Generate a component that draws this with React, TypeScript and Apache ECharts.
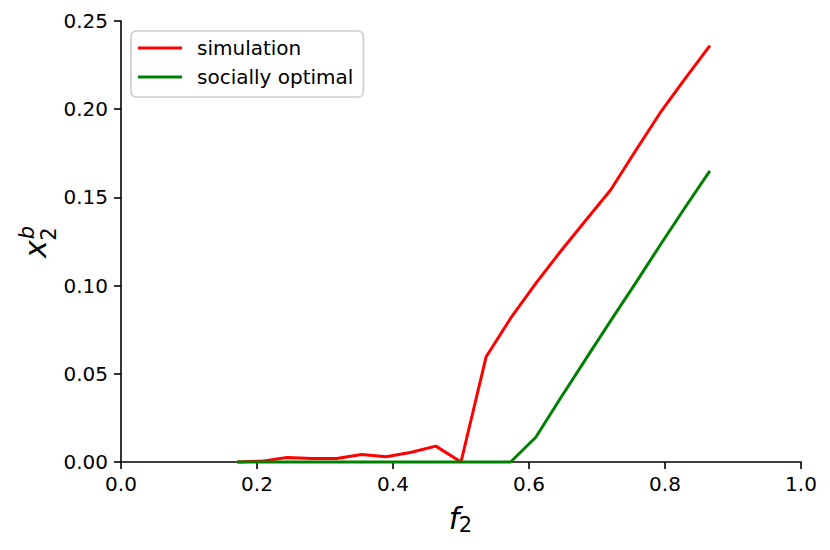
import React, { useEffect, useRef } from "react";
import * as echarts from "echarts";

const fValues = [0.171, 0.208, 0.244, 0.281, 0.317, 0.354, 0.39, 0.427, 0.463, 0.5, 0.537, 0.573, 0.61, 0.646, 0.683, 0.72, 0.756, 0.793, 0.829, 0.866];
const simulation = [0.0, 0.0005, 0.0025, 0.002, 0.002, 0.0043, 0.003, 0.0055, 0.009, 0.0, 0.0597, 0.0815, 0.1013, 0.1192, 0.1368, 0.1542, 0.176, 0.198, 0.217, 0.236];
const sociallyOptimal = [0, 0, 0, 0, 0, 0, 0, 0, 0, 0, 0, 0, 0.014, 0.036, 0.058, 0.08, 0.101, 0.123, 0.144, 0.165];
const seriesNames = ["simulation", "socially optimal"];
const seriesColors = ["#ff0000", "#008000"];
const xTicks = { min: 0, max: 1, interval: 0.2 };
const yTicks = { min: 0, max: 0.25, interval: 0.05 };

const FONT = "DejaVu Sans";

export default function App() {
  const ref = useRef<HTMLDivElement>(null);
  useEffect(() => {
    if (!ref.current) return;
    const chart = echarts.init(ref.current, undefined, { renderer: "svg" });
    const pairs = (ys: number[]) => fValues.map((f, i) => [f, ys[i]]);
    const rot = Math.PI / 2;
    chart.setOption({
      animation: false,
      backgroundColor: "#ffffff",
      textStyle: { fontFamily: FONT },
      grid: { left: 121, right: 29, top: 21, bottom: 88, containLabel: false },
      legend: {
        left: 131,
        top: 31,
        orient: "vertical",
        itemWidth: 44,
        itemHeight: 3,
        itemGap: 9,
        padding: [7, 10, 10, 7],
        backgroundColor: "rgba(255,255,255,0.8)",
        borderColor: "#cccccc",
        borderWidth: 1.6,
        borderRadius: 5,
        icon: "rect",
        textStyle: { fontFamily: FONT, fontSize: 20, color: "#000", padding: [0, 0, 0, 10] },
        data: seriesNames,
      },
      xAxis: {
        type: "value",
        min: xTicks.min,
        max: xTicks.max,
        interval: xTicks.interval,
        splitLine: { show: false },
        axisLine: { show: true, lineStyle: { color: "#000", width: 1.6 } },
        axisTick: { show: true, length: 7, lineStyle: { color: "#000", width: 1.6 } },
        axisLabel: {
          color: "#000",
          fontSize: 20,
          fontFamily: FONT,
          margin: 12,
          formatter: (v: number) => v.toFixed(1),
        },
      },
      yAxis: {
        type: "value",
        min: yTicks.min,
        max: yTicks.max,
        interval: yTicks.interval,
        splitLine: { show: false },
        axisLine: { show: true, lineStyle: { color: "#000", width: 1.6 } },
        axisTick: { show: true, length: 7, lineStyle: { color: "#000", width: 1.6 } },
        axisLabel: {
          color: "#000",
          fontSize: 20,
          fontFamily: FONT,
          margin: 13,
          formatter: (v: number) => v.toFixed(2),
        },
      },
      graphic: [
        {
          type: "text",
          x: 454,
          y: 518.5,
          style: { text: "f", font: `italic 30px "${FONT}"`, fill: "#000", align: "center", verticalAlign: "middle" },
        },
        {
          type: "text",
          x: 465.5,
          y: 525,
          style: { text: "2", font: `21px "${FONT}"`, fill: "#000", align: "center", verticalAlign: "middle" },
        },
        {
          type: "text",
          x: 35,
          y: 249,
          rotation: rot,
          style: { text: "x", font: `italic 30px "${FONT}"`, fill: "#000", align: "center", verticalAlign: "middle" },
        },
        {
          type: "text",
          x: 49,
          y: 234,
          rotation: rot,
          style: { text: "2", font: `21px "${FONT}"`, fill: "#000", align: "center", verticalAlign: "middle" },
        },
        {
          type: "text",
          x: 27,
          y: 232.5,
          rotation: rot,
          style: { text: "b", font: `italic 21px "${FONT}"`, fill: "#000", align: "center", verticalAlign: "middle" },
        },
      ],
      series: [
        {
          name: seriesNames[0],
          type: "line",
          data: pairs(simulation),
          showSymbol: false,
          symbol: "none",
          clip: false,
          lineStyle: { color: seriesColors[0], width: 3 },
          itemStyle: { color: seriesColors[0] },
        },
        {
          name: seriesNames[1],
          type: "line",
          data: pairs(sociallyOptimal),
          showSymbol: false,
          symbol: "none",
          clip: false,
          lineStyle: { color: seriesColors[1], width: 3 },
          itemStyle: { color: seriesColors[1] },
        },
      ],
    });
    return () => chart.dispose();
  }, []);
  return (
    <div
      ref={ref}
      style={{ position: "fixed", left: 0, top: 0, width: 830, height: 550, background: "#fff" }}
    />
  );
}
